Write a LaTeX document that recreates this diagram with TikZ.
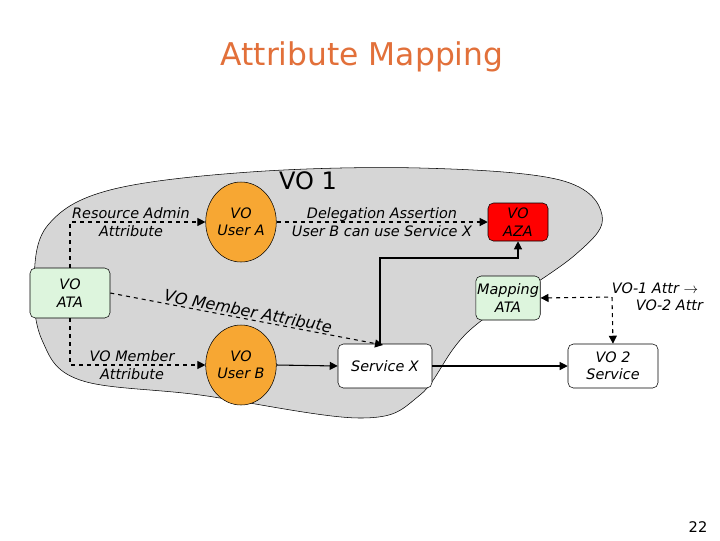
\documentclass[tikz,border=0pt]{standalone}
\usepackage{fontspec}
\setmainfont{DejaVu Sans}
\usetikzlibrary{arrows.meta,shapes.geometric}
\definecolor{ttl}{HTML}{E2703A}
\definecolor{orng}{HTML}{F7A733}
\definecolor{lgreen}{HTML}{DDF5DD}
\definecolor{blob}{HTML}{D6D6D6}
\begin{document}
\begin{tikzpicture}[x=0.75pt,y=-0.75pt,
  lbl/.style={font=\fontsize{10.8}{13}\selectfont\itshape,align=center,inner sep=1pt},
  ell/.style={ellipse,draw,fill=orng,minimum width=66*0.75pt,minimum height=80*0.75pt,lbl},
  box/.style={draw,rounded corners=4pt,lbl,minimum height=44*0.75pt},
  da/.style={dashed,thick,-{Triangle[length=6pt,width=6pt]}},
  sa/.style={thick,-{Triangle[length=6pt,width=6pt]}}]
\useasboundingbox (0,0) rectangle (720,540);
\fill[white] (0,0) rectangle (720,540);
\node[text=ttl,font=\fontsize{23.5}{28}\selectfont] (title) at (362,57) {Attribute Mapping};
\draw[fill=blob] plot[smooth cycle,tension=0.6] coordinates {(48,225) (110,190) (250,172) (420,168) (560,180) (602,215) (575,255) (470,330) (420,395) (360,418) (200,395) (80,380) (42,340) (34,280)};
\node[font=\fontsize{18}{22}\selectfont] (vo1) at (308,181) {VO 1};
\node[ell] (ua) at (241,222) {VO\\User A};
\node[ell] (ub) at (241,365) {VO\\User B};
\node[box,fill=red,minimum width=60*0.75pt,minimum height=38*0.75pt] (aza) at (518,222) {VO\\AZA};
\node[box,fill=lgreen,minimum width=80*0.75pt,minimum height=50*0.75pt] (ata) at (70,293) {VO\\ATA};
\node[box,fill=lgreen,minimum width=64*0.75pt] (map) at (508,298) {Mapping\\ATA};
\node[box,fill=white,minimum width=94*0.75pt] (sx) at (385,366) {Service X};
\node[box,fill=white,minimum width=90*0.75pt] (vo2) at (613,366) {VO 2\\Service};
\node[lbl] (l1) at (131,222) {Resource Admin\\Attribute};
\node[lbl] (l2) at (382,222) {Delegation Assertion\\User B can use Service X};
\node[lbl] (l3) at (132,365) {VO Member\\Attribute};
\node[lbl] (l4) at (655,297) {VO-1 Attr $\rightarrow$\\\hspace*{2em}VO-2 Attr};
\node[font=\fontsize{11}{13}\selectfont] (pg) at (698,527) {22};
\coordinate (c1) at (70,222);
\coordinate (c2) at (70,365);
\coordinate (c3) at (380,258);
\coordinate (c4) at (518,258);
\coordinate (c5) at (612,297);
\draw[da] (ata.north) -- (c1) -- (ua.west);
\draw[da] (ata.south) -- (c2) -- (ub.west);
\draw[da] (ua.east) -- (aza.west);
\draw[da] (ata.east) -- node[lbl,sloped,above,font=\fontsize{12}{14}\selectfont\itshape] {VO Member Attribute} (383,345);
\draw[dashed,thick,{Triangle[length=6pt,width=6pt]}-{Triangle[length=6pt,width=6pt]}] (map.east) -- (c5) -- (vo2.north);
\draw[sa] (ub.east) -- (sx.west);
\draw[sa] (sx.east) -- (vo2.west);
\draw[sa] (sx.north -| c3) -- (c3) -- (c4) -- (aza.south);
\end{tikzpicture}
\end{document}
